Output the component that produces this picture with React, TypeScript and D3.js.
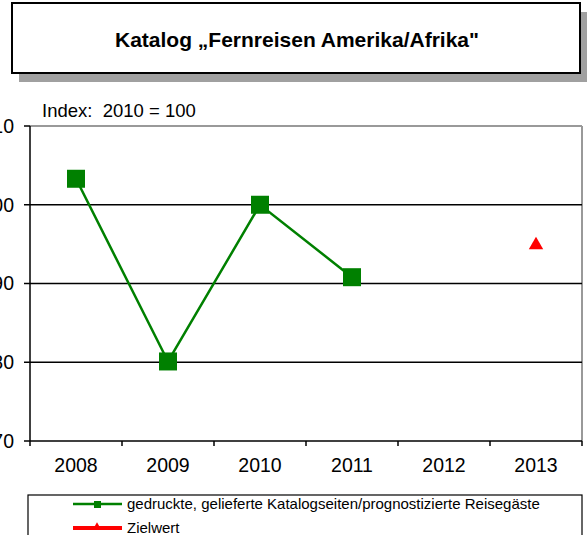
import * as d3 from "d3";

const years = ["2008", "2009", "2010", "2011", "2012", "2013"];
const catalogValues: (number | null)[] = [103.3, 80.1, 100, 90.8, null, null];
const targetValues: (number | null)[] = [null, null, null, null, null, 95];
const yTicks = [70, 80, 90, 100, 110];

const title = "Katalog „Fernreisen Amerika/Afrika\"";
const indexNote = "Index:  2010 = 100";
const legendLabels = ["gedruckte, gelieferte Katalogseiten/prognostizierte Reisegäste", "Zielwert"];

const font = "'Liberation Sans', Arial, sans-serif";

export default function App() {
  const W = 587, H = 535;
  const left = 30, right = 582, top = 126, bottom = 441;

  const x = d3.scaleBand<string>().domain(years).range([left, right]).padding(0);
  const y = d3.scaleLinear().domain([70, 110]).range([bottom, top]);
  const cx = (i: number) => (x(years[i]) ?? 0) + x.bandwidth() / 2;

  const pts = catalogValues.map((v, i) => ({ i, v }));
  const line = d3.line<{ i: number; v: number | null }>()
    .defined(d => d.v != null)
    .x(d => cx(d.i))
    .y(d => y(d.v as number));

  const tri = d3.symbol().type(d3.symbolTriangle).size(90)()!;
  const triSmall = d3.symbol().type(d3.symbolTriangle).size(30)()!;

  return (
    <svg width={W} height={H} style={{ position: "absolute", left: 0, top: 0 }} fontFamily={font}>
      <rect width={W} height={H} fill="#fff" />
      {/* title box */}
      <rect x={19} y={12} width={568} height={70} fill="#a0a0a0" />
      <rect x={12} y={3} width={568} height={70} fill="#fff" stroke="#000" strokeWidth={2} />
      <text x={297} y={47} textAnchor="middle" fontSize={21} fontWeight="bold">{title}</text>

      <text x={42} y={117} fontSize={18.5} style={{ whiteSpace: "pre" }}>{indexNote}</text>

      {/* plot frame */}
      <line x1={left} x2={right} y1={top} y2={top} stroke="#999" strokeWidth={2} />
      <line x1={right} x2={right} y1={top} y2={bottom} stroke="#999" strokeWidth={2} />
      {yTicks.filter(t => t !== 70 && t !== 110).map(t => (
        <line key={t} x1={left} x2={right} y1={y(t)} y2={y(t)} stroke="#000" strokeWidth={1.5} />
      ))}
      <line x1={left} x2={left} y1={top} y2={bottom} stroke="#000" strokeWidth={1.5} />
      <line x1={left} x2={right} y1={bottom} y2={bottom} stroke="#000" strokeWidth={1.5} />

      {yTicks.map(t => (
        <g key={t}>
          <line x1={left - 6} x2={left} y1={y(t)} y2={y(t)} stroke="#000" strokeWidth={1.5} />
          <text x={14} y={y(t)} dy="0.35em" textAnchor="end" fontSize={19.5}>{t}</text>
        </g>
      ))}

      {years.map((yr, i) => (
        <g key={yr}>
          <line x1={x(yr)!} x2={x(yr)!} y1={bottom} y2={bottom + 5} stroke="#000" strokeWidth={1.5} />
          <text x={cx(i)} y={472} textAnchor="middle" fontSize={19.5}>{yr}</text>
        </g>
      ))}
      <line x1={right} x2={right} y1={bottom} y2={bottom + 5} stroke="#000" strokeWidth={1.5} />

      {/* series */}
      <path d={line(pts) ?? ""} fill="none" stroke="#008000" strokeWidth={2.5} />
      {pts.filter(d => d.v != null).map(d => (
        <rect key={d.i} x={cx(d.i) - 9} y={y(d.v as number) - 9} width={18} height={18} fill="#008000" />
      ))}
      {targetValues.map((v, i) => v == null ? null : (
        <path key={i} d={tri} transform={`translate(${cx(i)},${y(v) + 1})`} fill="#ff0000" />
      ))}

      {/* legend */}
      <rect x={28} y={495} width={554} height={60} fill="#fff" stroke="#000" strokeWidth={1.2} />
      <line x1={73} x2={122} y1={504} y2={504} stroke="#008000" strokeWidth={2.5} />
      <rect x={94} y={501} width={7} height={7} fill="#008000" />
      <text x={127} y={504} dy="0.35em" fontSize={15}>{legendLabels[0]}</text>
      <line x1={73} x2={122} y1={528} y2={528} stroke="#ff0000" strokeWidth={4} />
      <path d={triSmall} transform={`translate(97,527)`} fill="#ff0000" />
      <text x={127} y={528} dy="0.35em" fontSize={15}>{legendLabels[1]}</text>
    </svg>
  );
}
